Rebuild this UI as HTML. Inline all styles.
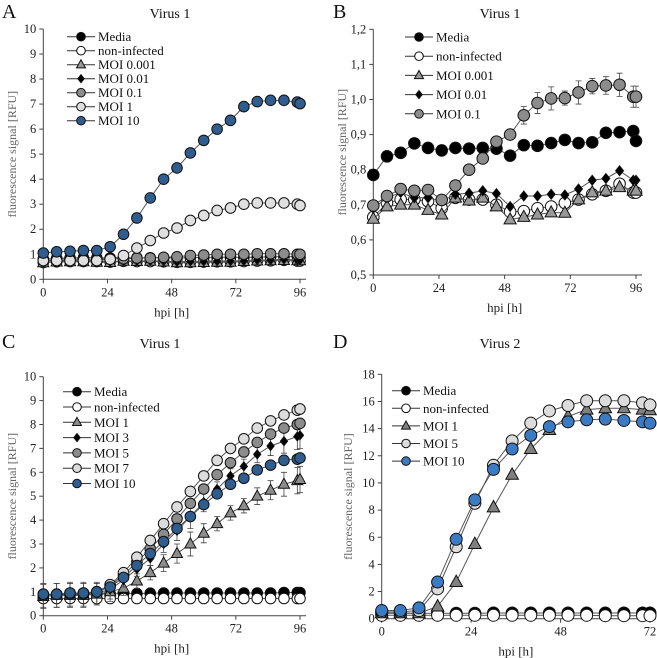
<!DOCTYPE html>
<html><head><meta charset="utf-8">
<style>
html,body{margin:0;padding:0;background:#fff;}
svg{display:block;font-family:"Liberation Serif",serif;}
</style></head>
<body>
<svg id="fig" width="657" height="658" viewBox="0 0 657 658"></svg>
<script>
// ---------- Data ----------
const timesA = [0,5,10,15,20,25,30,35,40,45,50,55,60,65,70,75,80,85,90,95,96];
const aMedia = [0.80,0.84,0.85,0.86,0.86,0.85,0.86,0.86,0.86,0.86,0.84,0.87,0.87,0.88,0.88,0.88,0.88,0.90,0.90,0.91,0.88];
const aNonInf = [0.67,0.70,0.71,0.71,0.71,0.69,0.72,0.71,0.71,0.70,0.68,0.68,0.69,0.70,0.70,0.71,0.73,0.74,0.76,0.73,0.73];
const aMoi0001 = [0.66,0.69,0.70,0.70,0.68,0.67,0.72,0.71,0.72,0.69,0.66,0.66,0.67,0.68,0.68,0.71,0.73,0.74,0.75,0.74,0.74];
const aMoi001 = [0.69,0.72,0.73,0.72,0.72,0.71,0.73,0.73,0.74,0.73,0.70,0.72,0.72,0.73,0.73,0.74,0.77,0.77,0.80,0.77,0.77];
const aMoi01 = [0.80,0.80,0.80,0.80,0.80,0.82,0.82,0.85,0.85,0.88,0.90,0.95,0.97,1.00,1.00,1.00,1.02,1.02,1.02,1.00,1.00];
const aMoi1 = [0.75,0.75,0.75,0.75,0.75,0.80,0.95,1.25,1.55,1.85,2.05,2.35,2.55,2.75,2.85,3.00,3.05,3.05,3.05,3.00,2.95];
const aMoi10 = [1.05,1.10,1.12,1.15,1.15,1.30,1.80,2.45,3.25,4.00,4.45,5.05,5.55,6.00,6.35,6.90,7.10,7.15,7.15,7.08,7.02];

const bMedia = [0.785,0.838,0.848,0.875,0.862,0.855,0.862,0.860,0.862,0.860,0.840,0.870,0.868,0.876,0.885,0.876,0.878,0.905,0.907,0.910,0.882];
const bNonInf = [0.665,0.705,0.715,0.715,0.710,0.690,0.720,0.715,0.715,0.700,0.680,0.682,0.690,0.695,0.705,0.715,0.730,0.740,0.760,0.735,0.735];
const bMoi0001 = [0.660,0.695,0.700,0.700,0.685,0.672,0.720,0.712,0.720,0.695,0.658,0.665,0.672,0.678,0.677,0.715,0.735,0.740,0.750,0.740,0.740];
const bMoi001 = [0.690,0.720,0.735,0.720,0.720,0.710,0.730,0.733,0.740,0.732,0.695,0.725,0.725,0.730,0.728,0.745,0.770,0.775,0.797,0.770,0.770];
const bMoi01 = [0.698,0.725,0.745,0.740,0.742,0.714,0.755,0.800,0.832,0.880,0.900,0.955,0.990,1.003,1.004,1.020,1.038,1.040,1.042,1.008,1.008];
const bMoi01Err = [0.01,0.015,0.015,0.01,0.01,0.01,0.01,0.01,0.01,0.01,0.015,0.025,0.03,0.033,0.02,0.033,0.022,0.025,0.033,0.03,0.03];

const cMedia = [0.85,0.85,0.88,0.90,0.90,0.92,0.93,0.93,0.94,0.95,0.95,0.95,0.95,0.95,0.95,0.95,0.95,0.95,0.97,0.97,0.97];
const cNonInf = [0.72,0.72,0.72,0.72,0.72,0.72,0.72,0.72,0.72,0.72,0.72,0.72,0.72,0.72,0.72,0.72,0.72,0.72,0.72,0.72,0.72];
const cMoi1 = [0.80,0.85,0.85,0.85,0.90,1.00,1.15,1.45,1.80,2.20,2.60,3.00,3.45,3.85,4.30,4.60,5.00,5.25,5.50,5.65,5.70];
const cMoi3 = [0.85,0.85,0.90,0.90,0.95,1.10,1.50,1.95,2.40,3.00,3.55,4.15,4.75,5.30,5.85,6.25,6.75,7.10,7.30,7.50,7.55];
const cMoi5 = [0.85,0.90,0.90,0.90,1.00,1.25,1.70,2.25,2.80,3.40,4.05,4.70,5.30,5.90,6.40,6.85,7.25,7.60,7.85,8.00,8.05];
const cMoi7 = [0.90,0.90,0.95,0.95,1.00,1.30,1.80,2.45,3.15,3.85,4.55,5.20,5.85,6.50,7.00,7.40,7.85,8.15,8.40,8.60,8.65];
const cMoi10 = [0.90,0.90,0.95,0.95,1.00,1.20,1.60,2.10,2.60,3.10,3.65,4.15,4.65,5.10,5.50,5.75,6.10,6.30,6.50,6.55,6.60];
const cErr = [0.5,0.5,0.5,0.5,0.45,0.4,0.3,0.3,0.3,0.35,0.4,0.5,0.4,0.3,0.3,0.3,0.35,0.4,0.5,0.55,0.55];

const timesD = [0,5,10,15,20,25,30,35,40,45,50,55,60,65,70,72];
const dMedia = [0.40,0.40,0.40,0.40,0.40,0.40,0.42,0.42,0.42,0.42,0.42,0.42,0.42,0.42,0.42,0.42];
const dNonInf = [0.25,0.25,0.25,0.25,0.25,0.25,0.25,0.25,0.25,0.25,0.25,0.25,0.22,0.22,0.22,0.22];
const dMoi1 = [0.40,0.40,0.40,0.90,2.70,5.50,8.20,10.60,12.50,13.90,14.90,15.40,15.50,15.50,15.40,15.35];
const dMoi5 = [0.50,0.50,0.60,2.20,5.30,8.50,11.30,13.10,14.40,15.30,15.70,16.05,16.05,16.05,15.90,15.75];
const dMoi10 = [0.60,0.60,0.80,2.70,5.85,8.75,11.00,12.50,13.50,14.15,14.50,14.65,14.70,14.60,14.50,14.40];

const ticksA = [0,1,2,3,4,5,6,7,8,9,10];
const ticksB = ["0,5","0,6","0,7","0,8","0,9","1,0","1,1","1,2"];
const ticksD = [0,2,4,6,8,10,12,14,16,18];
const xTicks96 = [0,24,48,72,96];
const xTicks72 = [0,24,48,72];

// ---------- Drawing ----------
const NS = "http://www.w3.org/2000/svg";
const svg = document.getElementById('fig');
function mk(tag, attrs, parent){
  const e = document.createElementNS(NS, tag);
  for (const k in attrs) e.setAttribute(k, attrs[k]);
  (parent||svg).appendChild(e);
  return e;
}
const BLUE1="#2f5d8e", BLUE2="#3a7bc4";

function marker(g, shape, fill, x, y, r){
  let m;
  if (shape==='circle') m = mk('circle',{cx:x,cy:y,r:r,fill:fill,stroke:'#111','stroke-width':1},g);
  else if (shape==='tri') m = mk('polygon',{points:`${x},${y-r*1.15} ${x-r*1.05},${y+r*0.75} ${x+r*1.05},${y+r*0.75}`,fill:fill,stroke:'#111','stroke-width':1},g);
  else m = mk('polygon',{points:`${x},${y-r} ${x+r*0.8},${y} ${x},${y+r} ${x-r*0.8},${y}`,fill:fill,stroke:'#111','stroke-width':1},g);
  return m;
}

function chart(cfg){
  const g = mk('g',{});
  
  
  const xs = v => cfg.x0 + (v - cfg.xmin)/(cfg.xmax-cfg.xmin)*(cfg.x1-cfg.x0);
  const ys = v => cfg.y0 - (v - cfg.ymin)/(cfg.ymax-cfg.ymin)*(cfg.y0-cfg.y1);
  // axes
  const ax = mk('path',{d:`M${cfg.x0},${cfg.y1} V${cfg.y0} H${cfg.x1+6}`,stroke:'#444',fill:'none','stroke-width':1},g);
   
  cfg.yTicks.forEach((t,i)=>{
    const v = cfg.yTickVals[i]; const y = ys(v);
    mk('line',{x1:cfg.x0-4,x2:cfg.x0,y1:y,y2:y,stroke:'#444'},g);
    const tx = mk('text',{x:cfg.x0-7,y:y+4,'text-anchor':'end','font-size':12.5,fill:'#222'},g);
    tx.textContent = t;
     
  });
  cfg.xTicks.forEach(t=>{
    const x = xs(t);
    mk('line',{x1:x,x2:x,y1:cfg.y0,y2:cfg.y0+4,stroke:'#444'},g);
    const tx = mk('text',{x:x,y:cfg.y0+17,'text-anchor':'middle','font-size':12.5,fill:'#222'},g);
    tx.textContent = t;
     
  });
  // labels
  let t = mk('text',{x:cfg.letterX,y:cfg.letterY,'font-size':20,fill:'#111'},g); t.textContent=cfg.letter;
   
  t = mk('text',{x:cfg.titleX,y:cfg.titleY,'text-anchor':'middle','font-size':14,fill:'#111'},g); t.textContent=cfg.title;
   
  t = mk('text',{x:(cfg.x0+cfg.x1)/2,y:cfg.y0+37,'text-anchor':'middle','font-size':13,fill:'#222'},g); t.textContent='hpi [h]';
   
  const ymid=(cfg.y0+cfg.y1)/2;
  t = mk('text',{x:cfg.ytX,y:ymid,'text-anchor':'middle','font-size':12,fill:'#666',transform:`rotate(-90 ${cfg.ytX} ${ymid})`},g); t.textContent='fluorescence signal [RFU]';
   
  // series
  cfg.series.forEach(s=>{
    const sg = mk('g',{},g);
     
    const pts = cfg.times.map((tt,i)=>[xs(tt),ys(s.data[i])]);
    const ln = mk('polyline',{points:pts.map(p=>p.join(',')).join(' '),fill:'none',stroke:'#555','stroke-width':1},sg);
     
    if (s.err) cfg.times.forEach((tt,i)=>{
      const x=xs(tt), a=ys(s.data[i]+s.err[i]), b=ys(s.data[i]-s.err[i]);
      mk('path',{d:`M${x},${a}V${b}M${x-3},${a}H${x+3}M${x-3},${b}H${x+3}`,stroke:'#444','stroke-width':0.8,fill:'none'},sg);
    });
    pts.forEach(p=>{
      const m = marker(sg,s.shape,s.fill,p[0],p[1],s.shape==='diamond'?cfg.r*0.85:cfg.r);
       
    });
  });
  // legend
  cfg.series.forEach((s,i)=>{
    const y = cfg.legY + i*cfg.legDy;
    const lg = mk('g',{},g);
     
    mk('line',{x1:cfg.legX,x2:cfg.legX+28,y1:y,y2:y,stroke:'#333','stroke-width':1},lg);
    marker(lg,s.shape,s.fill,cfg.legX+14,y,s.shape==='diamond'?4:4.3);
    const tx = mk('text',{x:cfg.legX+31,y:y+4.5,'font-size':13,fill:'#111'},lg); tx.textContent=s.label;
  });
}

chart({name:'chart-a',letter:'A',letterX:2,letterY:18,title:'Virus 1',titleX:170,titleY:18,
  x0:43.3,x1:300,y0:279.3,y1:29,xmin:0,xmax:96,ymin:0,ymax:10,ytX:16,r:5.3,
  times:timesA,xTicks:xTicks96,yTicks:ticksA,yTickVals:ticksA,
  legX:67,legY:36.7,legDy:14,
  series:[
    {key:'media',label:'Media',shape:'circle',fill:'#000',data:aMedia},
    {key:'non-infected',label:'non-infected',shape:'circle',fill:'#fff',data:aNonInf},
    {key:'moi-0001',label:'MOI 0.001',shape:'tri',fill:'#999',data:aMoi0001},
    {key:'moi-001',label:'MOI 0.01',shape:'diamond',fill:'#000',data:aMoi001},
    {key:'moi-01',label:'MOI 0.1',shape:'circle',fill:'#8c8c8c',data:aMoi01},
    {key:'moi-1',label:'MOI 1',shape:'circle',fill:'#e0e0e0',data:aMoi1},
    {key:'moi-10',label:'MOI 10',shape:'circle',fill:BLUE1,data:aMoi10}]});

chart({name:'chart-b',letter:'B',letterX:333,letterY:18,title:'Virus 1',titleX:500,titleY:18,
  x0:373.3,x1:636,y0:275,y1:29.3,xmin:0,xmax:96,ymin:0.5,ymax:1.2,ytX:346,r:5.8,
  times:timesA,xTicks:xTicks96,yTicks:ticksB,yTickVals:[0.5,0.6,0.7,0.8,0.9,1.0,1.1,1.2],
  legX:405,legY:37,legDy:19.2,
  series:[
    {key:'media',label:'Media',shape:'circle',fill:'#000',data:bMedia},
    {key:'non-infected',label:'non-infected',shape:'circle',fill:'#fff',data:bNonInf},
    {key:'moi-0001',label:'MOI 0.001',shape:'tri',fill:'#999',data:bMoi0001},
    {key:'moi-001',label:'MOI 0.01',shape:'diamond',fill:'#000',data:bMoi001},
    {key:'moi-01',label:'MOI 0.1',shape:'circle',fill:'#8c8c8c',data:bMoi01,err:bMoi01Err}]});

chart({name:'chart-c',letter:'C',letterX:2,letterY:348,title:'Virus 1',titleX:160,titleY:348,
  x0:43.3,x1:300,y0:615.7,y1:376.7,xmin:0,xmax:96,ymin:0,ymax:10,ytX:16,r:5.3,
  times:timesA,xTicks:xTicks96,yTicks:ticksA,yTickVals:ticksA,
  legX:63,legY:391.7,legDy:15.3,
  series:[
    {key:'media',label:'Media',shape:'circle',fill:'#000',data:cMedia},
    {key:'non-infected',label:'non-infected',shape:'circle',fill:'#fff',data:cNonInf},
    {key:'moi-1',label:'MOI 1',shape:'tri',fill:'#8c8c8c',data:cMoi1,err:cErr},
    {key:'moi-3',label:'MOI 3',shape:'diamond',fill:'#000',data:cMoi3,err:cErr},
    {key:'moi-5',label:'MOI 5',shape:'circle',fill:'#8c8c8c',data:cMoi5},
    {key:'moi-7',label:'MOI 7',shape:'circle',fill:'#dcdcdc',data:cMoi7},
    {key:'moi-10',label:'MOI 10',shape:'circle',fill:BLUE1,data:cMoi10}]});

chart({name:'chart-d',letter:'D',letterX:333,letterY:348,title:'Virus 2',titleX:500,titleY:348,
  x0:381.7,x1:650,y0:618.7,y1:374.3,xmin:0,xmax:72,ymin:0,ymax:18,ytX:352,r:6,
  times:timesD,xTicks:xTicks72,yTicks:ticksD,yTickVals:ticksD,
  legX:392,legY:390.7,legDy:17.6,
  series:[
    {key:'media',label:'Media',shape:'circle',fill:'#000',data:dMedia},
    {key:'non-infected',label:'non-infected',shape:'circle',fill:'#fff',data:dNonInf},
    {key:'moi-1',label:'MOI 1',shape:'tri',fill:'#808080',data:dMoi1},
    {key:'moi-5',label:'MOI 5',shape:'circle',fill:'#dcdcdc',data:dMoi5},
    {key:'moi-10',label:'MOI 10',shape:'circle',fill:BLUE2,data:dMoi10}]});
</script>
</body></html>
